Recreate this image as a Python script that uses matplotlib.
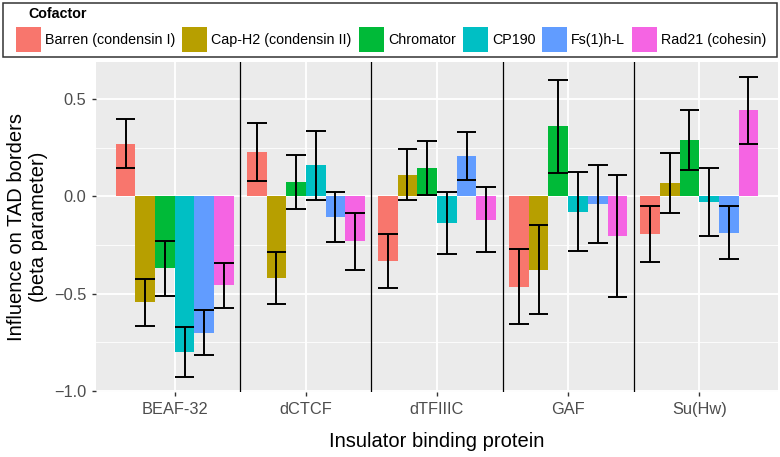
import numpy as np
import matplotlib
matplotlib.use('Agg')
import matplotlib.pyplot as plt
from matplotlib.patches import Patch, Rectangle

plt.rcParams['font.family'] = ['Liberation Sans', 'DejaVu Sans']

insulators = ['BEAF-32', 'dCTCF', 'dTFIIIC', 'GAF', 'Su(Hw)']
cofactors = ['Barren (condensin I)', 'Cap-H2 (condensin II)', 'Chromator',
             'CP190', 'Fs(1)h-L', 'Rad21 (cohesin)']
colors = ['#F8766D', '#B79F00', '#00BA38', '#00BFC4', '#619CFF', '#F564E3']

# beta per cofactor, in insulator order
barren = [0.27, 0.228, -0.334, -0.465, -0.192]
cap_h2 = [-0.545, -0.419, 0.111, -0.376, 0.068]
chromator = [-0.37, 0.074, 0.147, 0.359, 0.289]
cp190 = [-0.80, 0.16, -0.137, -0.078, -0.031]
fs1h = [-0.70, -0.108, 0.206, -0.041, -0.188]
rad21 = [-0.457, -0.23, -0.119, -0.202, 0.441]

# half width of the error bars
barren_err = [0.125, 0.147, 0.139, 0.193, 0.144]
cap_h2_err = [0.12, 0.133, 0.13, 0.227, 0.155]
chromator_err = [0.14, 0.14, 0.139, 0.24, 0.156]
cp190_err = [0.128, 0.177, 0.158, 0.205, 0.174]
fs1h_err = [0.115, 0.129, 0.123, 0.2, 0.136]
rad21_err = [0.116, 0.146, 0.169, 0.313, 0.173]

betas = [barren, cap_h2, chromator, cp190, fs1h, rad21]
errs = [barren_err, cap_h2_err, chromator_err, cp190_err, fs1h_err, rad21_err]

fig = plt.figure(figsize=(7.8, 4.57), dpi=100)
ax = fig.add_axes([96/780, 1-392/457, 682/780, 330/457])
ax.set_facecolor('#EBEBEB')

x = np.arange(1, len(insulators)+1)
w = 0.15
for i, (b, e, c) in enumerate(zip(betas, errs, colors)):
    pos = x + (i - 2.5)*w
    b = np.array(b)
    e = np.array(e)
    ax.bar(pos, b, width=w, color=c, zorder=2)
    ax.vlines(pos, b-e, b+e, color='black', lw=1.4, zorder=3)
    ax.hlines(b+e, pos-w/2, pos+w/2, color='black', lw=1.4, zorder=3)
    ax.hlines(b-e, pos-w/2, pos+w/2, color='black', lw=1.4, zorder=3)

for sep in x[:-1] + 0.5:
    ax.axvline(sep, color='black', lw=0.9, zorder=3)

ax.set_xlim(0.4, 5.6)
ax.set_ylim(-1.005, 0.69)
ax.set_xticks(x)
ax.set_xticklabels(insulators)
ax.set_yticks([0.5, 0.0, -0.5, -1.0])
ax.set_yticklabels(['0.5', '0.0', '\u22120.5', '\u22121.0'])
ax.set_yticks([0.25, -0.25, -0.75], minor=True)
ax.grid(True, which='major', color='white', lw=1.3, zorder=0)
ax.grid(True, which='minor', axis='y', color='white', lw=0.6, zorder=0)
ax.set_axisbelow(True)
for s in ax.spines.values():
    s.set_visible(False)
ax.tick_params(which='major', length=3, width=1, color='#333333',
               labelcolor='#4D4D4D', labelsize=11.8, pad=4)
ax.tick_params(which='minor', length=0)

ax.set_xlabel('Insulator binding protein', fontsize=14.5, labelpad=11)
ax.set_ylabel('Influence on TAD borders\n(beta parameter)', fontsize=14.5,
              labelpad=4, linespacing=1.2)

# legend frame and title drawn by hand, ggplot style
fig.patches.append(Rectangle((3/780, 1-57/457), 774/780, 54/457,
                             transform=fig.transFigure, facecolor='white',
                             edgecolor='#333333', lw=1.1))
fig.text(28/780, 1-14/457, 'Cofactor', fontsize=10.3, fontweight='bold',
         ha='left', va='center')
handles = [Patch(facecolor=c, edgecolor='none') for c in colors]
leg = fig.legend(handles, cofactors, loc='upper left', ncol=6,
                 bbox_to_anchor=(16/780, 1-27/457), frameon=False,
                 fontsize=10.3, handlelength=1.75, handleheight=2.31,
                 handletextpad=0.28, columnspacing=0.49, borderpad=0,
                 borderaxespad=0)

fig.savefig('out.png', dpi=100)
